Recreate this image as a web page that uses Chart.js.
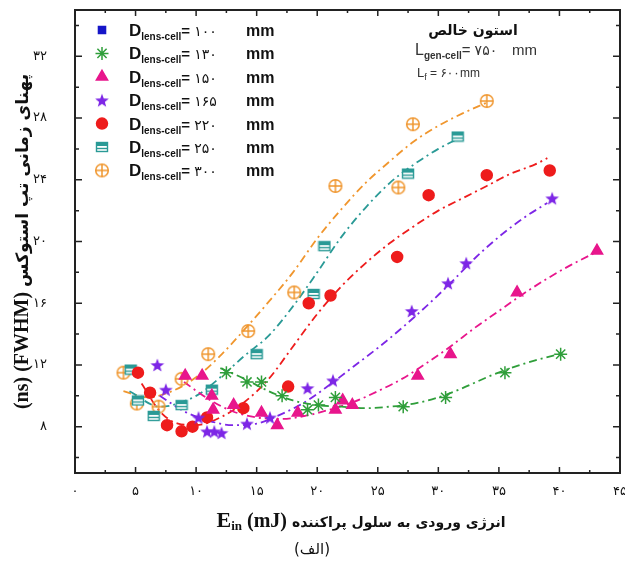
<!DOCTYPE html>
<html>
<head>
<meta charset="utf-8">
<script src="https://cdn.jsdelivr.net/npm/chart.js@4.4.1/dist/chart.umd.min.js"></script>
<style>
    html, body { margin: 0; padding: 0; background: #fff; }
</style>
</head>
<body>
<canvas id="grafico-stokes" width="625" height="566"></canvas>
<script>

// ticks
const ticksX = [0, 5, 10, 15, 20, 25, 30, 35, 40, 45];
const ticksY = [8, 12, 16, 20, 24, 28, 32];

// diametros de la lente (legend)
const diametros = ['۱۰۰', '۱۳۰', '۱۵۰', '۱۶۵', '۲۲۰', '۲۵۰', '۳۰۰'];

// puntos medidos [Ein mJ, FWHM ns]
const puntos100 = [];
const puntos130 = [[12.5, 11.5], [14.2, 10.9], [15.4, 10.9], [17.1, 10.0], [19.2, 9.1], [20.1, 9.4], [21.5, 9.9], [27.1, 9.3], [30.6, 9.9], [35.5, 11.5], [40.1, 12.7]];
const puntos150 = [[9.1, 11.3], [10.5, 11.3], [11.3, 10.0], [11.4, 9.1], [13.1, 9.4], [15.4, 8.9], [16.7, 8.1], [18.4, 8.9], [21.5, 9.1], [22.1, 9.7], [22.9, 9.4], [28.3, 11.3], [31.0, 12.7], [36.5, 16.7], [43.1, 19.4]];
const puntos165 = [[6.8, 12.0], [7.5, 10.4], [10.2, 8.6], [10.9, 7.7], [11.5, 7.7], [12.1, 7.6], [14.2, 8.2], [16.1, 8.6], [19.2, 10.5], [21.3, 11.0], [27.8, 15.5], [30.8, 17.3], [32.3, 18.6], [39.4, 22.8]];
const puntos220 = [[5.2, 11.5], [6.2, 10.2], [7.6, 8.1], [8.8, 7.7], [9.7, 8.0], [10.9, 8.6], [13.9, 9.2], [17.6, 10.6], [19.3, 16.0], [21.1, 16.5], [26.6, 19.0], [29.2, 23.0], [34.0, 24.3], [39.2, 24.6]];
const puntos250 = [[4.6, 11.7], [5.2, 9.7], [6.5, 8.7], [8.8, 9.4], [11.3, 10.4], [15.0, 12.7], [19.7, 16.6], [20.6, 19.7], [27.5, 24.4], [31.6, 26.8]];
const puntos300 = [[4.0, 11.5], [5.1, 9.5], [6.9, 9.3], [8.8, 11.1], [11.0, 12.7], [14.3, 14.2], [18.1, 16.7], [21.5, 23.6], [26.7, 23.5], [27.9, 27.6], [34.0, 29.1]];

// curvas de ajuste
const ajuste130 = [[12, 11.8], [14, 11.1], [16, 10.3], [18, 9.7], [20, 9.4], [22, 9.3], [24, 9.2], [26, 9.3], [28, 9.5], [30, 9.9], [32, 10.5], [34, 11.2], [36, 11.8], [38, 12.3], [40, 12.7]];
const ajuste150 = [[9, 10.9], [11, 9.8], [13, 9.0], [15, 8.6], [17, 8.5], [19, 8.7], [21, 9.1], [23, 9.6], [25, 10.3], [27, 11.1], [29, 12.1], [31, 13.2], [33, 14.4], [35, 15.5], [37, 16.6], [39, 17.6], [41, 18.5], [43, 19.3]];
const ajuste165 = [[7, 10.0], [9, 9.0], [11, 8.4], [13, 8.1], [15, 8.2], [17, 8.8], [19, 9.6], [21, 10.7], [23, 11.9], [25, 13.1], [27, 14.4], [29, 15.8], [31, 17.3], [33, 18.9], [35, 20.3], [37, 21.5], [39, 22.5]];
const ajuste220 = [[5.5, 10.8], [7, 9.0], [8.5, 8.2], [10, 8.1], [12, 8.6], [14, 9.6], [16, 11.1], [18, 13.2], [20, 15.3], [22, 17.1], [24, 18.6], [26, 19.9], [28, 21.0], [30, 22.0], [32, 22.8], [34, 23.6], [36, 24.4], [38, 25.0], [39, 25.4]];
const ajuste250 = [[4.5, 10.3], [7, 9.3], [10, 10.0], [12, 11.2], [14, 12.6], [16, 13.9], [18, 15.8], [20, 18.0], [22, 20.3], [24, 22.2], [26, 23.8], [28, 25.0], [30, 26.0], [32, 26.8]];
const ajuste300 = [[4, 10.3], [6, 9.9], [8, 10.3], [10, 11.2], [12, 12.6], [14, 14.3], [16, 16.1], [18, 18.0], [20, 20.2], [22, 22.1], [24, 23.8], [26, 25.2], [28, 26.5], [30, 27.5], [32, 28.3], [34, 29.0]];

const fa = n => String(n).replace(/\d/g, d => '۰۱۲۳۴۵۶۷۸۹'[d]);
const aPuntos = arr => arr.map(p => ({ x: p[0], y: p[1] }));

// marcadores que Chart.js no trae
function marcaEstrella(color) {
    const c = document.createElement('canvas');
    c.width = 16; c.height = 16;
    const g = c.getContext('2d');
    g.fillStyle = color;
    g.beginPath();
    for (let i = 0; i < 10; i++) {
        const r = i % 2 ? 3.0 : 7.2;
        const a = -Math.PI / 2 + i * Math.PI / 5;
        g.lineTo(8 + r * Math.cos(a), 8.8 + r * Math.sin(a));
    }
    g.closePath();
    g.fill();
    return c;
}

function marcaCaja(color) {
    const c = document.createElement('canvas');
    c.width = 14; c.height = 12;
    const g = c.getContext('2d');
    g.fillStyle = '#fff';
    g.fillRect(1, 1, 12, 10);
    g.strokeStyle = color;
    g.fillStyle = color;
    g.lineWidth = 1.4;
    g.strokeRect(1.5, 1.5, 11, 9);
    g.fillRect(1.5, 1.5, 11, 3.5);
    g.beginPath();
    g.moveTo(1.5, 7.5); g.lineTo(12.5, 7.5);
    g.stroke();
    return c;
}

function marcaCirculoCruz(color) {
    const c = document.createElement('canvas');
    c.width = 16; c.height = 16;
    const g = c.getContext('2d');
    g.strokeStyle = color;
    g.lineWidth = 1.5;
    g.beginPath();
    g.arc(8, 8, 6.3, 0, Math.PI * 2);
    g.moveTo(1.7, 8); g.lineTo(14.3, 8);
    g.moveTo(8, 1.7); g.lineTo(8, 14.3);
    g.stroke();
    return c;
}

const series = [
    { puntos: puntos100, ajuste: null,      color: '#1616c8', estilo: 'rect',                        radio: 5 },
    { puntos: puntos130, ajuste: ajuste130, color: '#2f9e3a', estilo: 'star',                        radio: 6.5 },
    { puntos: puntos150, ajuste: ajuste150, color: '#e8168c', estilo: 'triangle',                    radio: 6.5 },
    { puntos: puntos165, ajuste: ajuste165, color: '#7d26e6', estilo: marcaEstrella('#7d26e6'),      radio: 7 },
    { puntos: puntos220, ajuste: ajuste220, color: '#ee1c1c', estilo: 'circle',                      radio: 5.5 },
    { puntos: puntos250, ajuste: ajuste250, color: '#2a9a96', estilo: marcaCaja('#2a9a96'),          radio: 7 },
    { puntos: puntos300, ajuste: ajuste300, color: '#f0962e', estilo: marcaCirculoCruz('#f0962e'),   radio: 7 }
];

const datasets = [];
series.forEach((s, i) => {
    if (s.ajuste) {
        datasets.push({
            label: 'ajuste ' + diametros[i],
            data: aPuntos(s.ajuste),
            showLine: true,
            pointRadius: 0,
            borderColor: s.color,
            borderWidth: 1.8,
            borderDash: [8, 4, 2, 4],
            cubicInterpolationMode: 'monotone',
            fill: false,
            order: 2
        });
    }
    datasets.push({
        label: diametros[i],
        data: aPuntos(s.puntos),
        showLine: false,
        pointStyle: s.estilo,
        pointRadius: s.radio,
        backgroundColor: s.color,
        borderColor: s.color,
        borderWidth: 1.5,
        order: 1,
        esMarca: true
    });
});

// escribe trozos de texto seguidos (para subindices)
function textoPartes(ctx, partes, x, y, medir) {
    let ancho = 0;
    partes.forEach(p => {
        ctx.font = p.f;
        if (!medir) ctx.fillText(p.t, x + ancho, y + (p.dy || 0));
        ancho += ctx.measureText(p.t).width;
    });
    return ancho;
}

const SANS = '"Liberation Sans", Arial, sans-serif';
const SERIF = '"Liberation Serif", "Times New Roman", serif';
const FA = '"DejaVu Sans", sans-serif';

const sinPadding = eje => {
    eje.paddingTop = 0;
    eje.paddingBottom = 0;
    eje.paddingLeft = 0;
    eje.paddingRight = 0;
};

const pluginMarco = {
    id: 'marco',
    afterDraw(chart) {
        const ctx = chart.ctx;
        const a = chart.chartArea;
        const xs = chart.scales.x;
        const ys = chart.scales.y;

        ctx.save();
        ctx.strokeStyle = '#222';
        ctx.lineWidth = 2;
        ctx.strokeRect(a.left, a.top, a.right - a.left, a.bottom - a.top);

        // ticks hacia adentro
        ctx.lineWidth = 1.5;
        ctx.beginPath();
        for (let v = 0; v <= 45; v += 2.5) {
            const largo = v % 5 === 0 ? 6 : 3;
            const px = xs.getPixelForValue(v);
            ctx.moveTo(px, a.bottom); ctx.lineTo(px, a.bottom - largo);
            ctx.moveTo(px, a.top); ctx.lineTo(px, a.top + largo);
        }
        for (let v = 6; v <= 34; v += 2) {
            const largo = (v - 8) % 4 === 0 ? 7 : 4;
            const py = ys.getPixelForValue(v);
            ctx.moveTo(a.left, py); ctx.lineTo(a.left + largo, py);
            ctx.moveTo(a.right, py); ctx.lineTo(a.right - largo, py);
        }
        ctx.stroke();

        // leyenda
        ctx.fillStyle = '#111';
        ctx.textBaseline = 'alphabetic';
        const marcas = chart.data.datasets.filter(d => d.esMarca);
        marcas.forEach((d, i) => {
            const yc = 30 + i * 23.4;
            ctx.fillStyle = d.backgroundColor;
            ctx.strokeStyle = d.borderColor;
            ctx.lineWidth = d.borderWidth;
            Chart.helpers.drawPoint(ctx, { pointStyle: d.pointStyle, radius: d.pointRadius, rotation: 0, borderWidth: d.borderWidth }, 102, yc);
            ctx.fillStyle = '#111';
            textoPartes(ctx, [
                { t: 'D', f: 'bold 17px ' + SANS, dy: 6 },
                { t: 'lens-cell', f: 'bold 10px ' + SANS, dy: 10 },
                { t: '= ', f: 'bold 15px ' + SANS, dy: 6 },
                { t: diametros[i], f: '14px ' + FA, dy: 6 }
            ], 129, yc);
            ctx.font = 'bold 16px ' + SANS;
            ctx.fillText('mm', 246, yc + 6);
        });

        // anotacion arriba a la derecha
        ctx.fillStyle = '#111';
        ctx.font = 'bold 14px ' + FA;
        ctx.textAlign = 'center';
        ctx.fillText('استون خالص', 473, 35);
        ctx.textAlign = 'left';
        ctx.fillStyle = '#333';
        textoPartes(ctx, [
            { t: 'L', f: '16px ' + SANS, dy: 5 },
            { t: 'gen-cell', f: 'bold 10px ' + SANS, dy: 9 },
            { t: '= ', f: '15px ' + SANS, dy: 5 },
            { t: '۷۵۰', f: '14px ' + FA, dy: 5 }
        ], 415, 50);
        ctx.font = '15px ' + SANS;
        ctx.fillText('mm', 512, 55);
        textoPartes(ctx, [
            { t: 'L', f: '13px ' + SANS, dy: 4 },
            { t: 'f', f: '9px ' + SANS, dy: 7 },
            { t: ' = ', f: '12px ' + SANS, dy: 4 },
            { t: '۶۰۰', f: '12px ' + FA, dy: 4 }
        ], 417, 73);
        ctx.font = '12px ' + SANS;
        ctx.fillText('mm', 460, 77);

        // titulo eje x
        ctx.fillStyle = '#111';
        const partesX = [
            { t: 'E', f: 'bold 22px ' + SERIF, dy: 0 },
            { t: 'in', f: 'bold 13px ' + SERIF, dy: 3 },
            { t: ' (mJ) ', f: 'bold 20px ' + SERIF, dy: 0 },
            { t: 'انرژی ورودی به سلول پراکننده', f: 'bold 14px ' + FA, dy: 0 }
        ];
        const anchoX = textoPartes(ctx, partesX, 0, 0, true);
        textoPartes(ctx, partesX, 361 - anchoX / 2, 527);

        ctx.font = '15px ' + FA;
        ctx.textAlign = 'center';
        ctx.fillText('(الف)', 312, 554);
        ctx.textAlign = 'left';

        // titulo eje y
        ctx.translate(21, (a.top + a.bottom) / 2);
        ctx.rotate(-Math.PI / 2);
        const partesY = [
            { t: '(ns) (FWHM) ', f: 'bold 20px ' + SERIF, dy: 7 },
            { t: 'پهنای زمانی تپ استوکس', f: 'bold 17px ' + FA, dy: 7 }
        ];
        const anchoY = textoPartes(ctx, partesY, 0, 0, true);
        textoPartes(ctx, partesY, -anchoY / 2, 0);
        ctx.restore();
    }
};

new Chart(document.getElementById('grafico-stokes'), {
    type: 'scatter',
    data: { datasets: datasets },
    options: {
        responsive: false,
        animation: false,
        devicePixelRatio: 1,
        layout: { autoPadding: false, padding: { top: 10, right: 5, left: 0, bottom: 0 } },
        plugins: {
            legend: { display: false },
            tooltip: { enabled: false }
        },
        scales: {
            x: {
                type: 'linear',
                min: 0,
                max: 45,
                afterBuildTicks: eje => { eje.ticks = ticksX.map(v => ({ value: v })); },
                afterFit: eje => { eje.height = 93; sinPadding(eje); },
                ticks: {
                    callback: v => fa(v),
                    font: { family: 'DejaVu Sans', size: 13 },
                    color: '#111',
                    padding: 11,
                    maxRotation: 0,
                    autoSkip: false
                },
                grid: { display: false, drawTicks: false },
                border: { display: false }
            },
            y: {
                type: 'linear',
                min: 5,
                max: 35,
                afterBuildTicks: eje => { eje.ticks = ticksY.map(v => ({ value: v })); },
                afterFit: eje => { eje.width = 75; sinPadding(eje); },
                ticks: {
                    callback: v => fa(v),
                    font: { family: 'DejaVu Sans', size: 13 },
                    color: '#111',
                    padding: 28,
                    autoSkip: false
                },
                grid: { display: false, drawTicks: false },
                border: { display: false }
            }
        }
    },
    plugins: [pluginMarco]
});

</script>
</body>
</html>
